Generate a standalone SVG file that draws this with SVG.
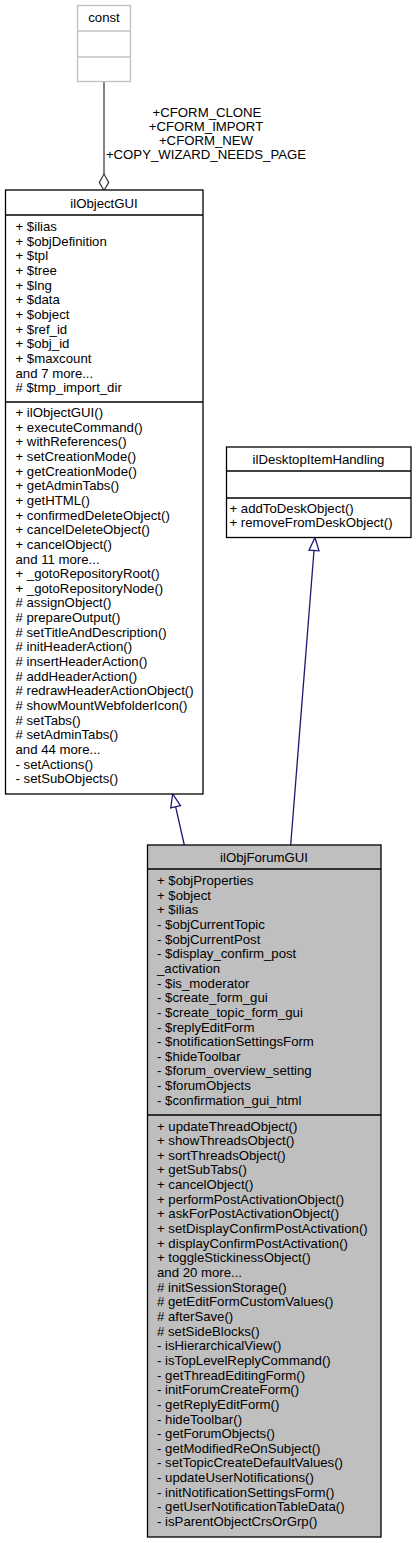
<svg xmlns="http://www.w3.org/2000/svg" width="416" height="1543" viewBox="0 0 416 1543">
<style>
text{font-family:"Liberation Sans",Arial,Helvetica,sans-serif;font-size:13.2px;fill:#000}
.c{text-anchor:middle}
.box{fill:#fff;stroke:#000;stroke-width:1.3}
.main{fill:#bfbfbf;stroke:#000;stroke-width:1.3}
.und{fill:#fff;stroke:#bfbfbf;stroke-width:1.3}
.sep{stroke:#000;stroke-width:1.3}
.sepg{stroke:#bfbfbf;stroke-width:1.3}
.inh{stroke:#191970;stroke-width:1.3;fill:none}
.inhh{stroke:#191970;stroke-width:1.3;fill:#fff}
.use{stroke:#404040;stroke-width:1.3;fill:none}
.useh{stroke:#404040;stroke-width:1.3;fill:#fff}
</style>
<rect width="416" height="1543" fill="#fff"/>
<g id="connectors">
<path class="use" d="M104,82 L104,174"/>
<polygon class="useh" points="104,174 99.3,182.4 104,190.5 108.7,182.4"/>
<text class="c" x="207" y="117">+CFORM_CLONE</text>
<text class="c" x="206" y="131">+CFORM_IMPORT</text>
<text class="c" x="206" y="145">+CFORM_NEW</text>
<text class="c" x="206" y="159">+COPY_WIZARD_NEEDS_PAGE</text>
<path class="inh" d="M184.3,845 L175.6,806.7"/>
<polygon class="inhh" points="172.7,794 170.7,807.8 180.5,805.6"/>
<path class="inh" d="M290.7,845 L314,550.5"/>
<polygon class="inhh" points="315,537.5 309,550.1 319,550.9"/>
</g>
<g id="const">
<rect class="und" x="77.5" y="5.5" width="53" height="76"/>
<line class="sepg" x1="77.5" y1="31" x2="130.5" y2="31"/>
<line class="sepg" x1="77.5" y1="57" x2="130.5" y2="57"/>
<text class="c" x="104" y="22">const</text>
</g>
<g id="ilObjectGUI">
<rect class="box" x="5.5" y="190" width="197.5" height="604"/>
<line class="sep" x1="5.5" y1="215" x2="203" y2="215"/>
<line class="sep" x1="5.5" y1="402" x2="203" y2="402"/>
<text class="c" x="104" y="207.5">ilObjectGUI</text>
<text x="15.5" y="231">+ $ilias</text>
<text x="15.5" y="245.65">+ $objDefinition</text>
<text x="15.5" y="260.3">+ $tpl</text>
<text x="15.5" y="274.95">+ $tree</text>
<text x="15.5" y="289.6">+ $lng</text>
<text x="15.5" y="304.25">+ $data</text>
<text x="15.5" y="318.9">+ $object</text>
<text x="15.5" y="333.55">+ $ref_id</text>
<text x="15.5" y="348.2">+ $obj_id</text>
<text x="15.5" y="362.85">+ $maxcount</text>
<text x="15.5" y="377.5">and 7 more...</text>
<text x="15.5" y="392.15"># $tmp_import_dir</text>
<text x="15.5" y="417">+ ilObjectGUI()</text>
<text x="15.5" y="431.65">+ executeCommand()</text>
<text x="15.5" y="446.3">+ withReferences()</text>
<text x="15.5" y="460.95">+ setCreationMode()</text>
<text x="15.5" y="475.6">+ getCreationMode()</text>
<text x="15.5" y="490.25">+ getAdminTabs()</text>
<text x="15.5" y="504.9">+ getHTML()</text>
<text x="15.5" y="519.55">+ confirmedDeleteObject()</text>
<text x="15.5" y="534.2">+ cancelDeleteObject()</text>
<text x="15.5" y="548.85">+ cancelObject()</text>
<text x="15.5" y="563.5">and 11 more...</text>
<text x="15.5" y="578.15">+ _gotoRepositoryRoot()</text>
<text x="15.5" y="592.8">+ _gotoRepositoryNode()</text>
<text x="15.5" y="607.45"># assignObject()</text>
<text x="15.5" y="622.1"># prepareOutput()</text>
<text x="15.5" y="636.75"># setTitleAndDescription()</text>
<text x="15.5" y="651.4"># initHeaderAction()</text>
<text x="15.5" y="666.05"># insertHeaderAction()</text>
<text x="15.5" y="680.7"># addHeaderAction()</text>
<text x="15.5" y="695.35"># redrawHeaderActionObject()</text>
<text x="15.5" y="710"># showMountWebfolderIcon()</text>
<text x="15.5" y="724.65"># setTabs()</text>
<text x="15.5" y="739.3"># setAdminTabs()</text>
<text x="15.5" y="753.95">and 44 more...</text>
<text x="15.5" y="768.6">- setActions()</text>
<text x="15.5" y="783.25">- setSubObjects()</text>
</g>
<g id="ilDesktopItemHandling">
<rect class="box" x="226.5" y="447" width="184.5" height="90.5"/>
<line class="sep" x1="226.5" y1="471" x2="411" y2="471"/>
<line class="sep" x1="226.5" y1="498" x2="411" y2="498"/>
<text class="c" x="318.5" y="464">ilDesktopItemHandling</text>
<text x="229.5" y="512.5">+ addToDeskObject()</text>
<text x="229.5" y="527.2">+ removeFromDeskObject()</text>
</g>
<g id="ilObjForumGUI">
<rect class="main" x="147.5" y="845" width="233.5" height="692"/>
<line class="sep" x1="147.5" y1="869" x2="381" y2="869"/>
<line class="sep" x1="147.5" y1="1115" x2="381" y2="1115"/>
<text class="c" x="264" y="861.7">ilObjForumGUI</text>
<text x="157" y="885">+ $objProperties</text>
<text x="157" y="899.65">+ $object</text>
<text x="157" y="914.3">+ $ilias</text>
<text x="157" y="928.95">- $objCurrentTopic</text>
<text x="157" y="943.6">- $objCurrentPost</text>
<text x="157" y="958.25">- $display_confirm_post</text>
<text x="157" y="972.9">_activation</text>
<text x="157" y="987.55">- $is_moderator</text>
<text x="157" y="1002.2">- $create_form_gui</text>
<text x="157" y="1016.85">- $create_topic_form_gui</text>
<text x="157" y="1031.5">- $replyEditForm</text>
<text x="157" y="1046.15">- $notificationSettingsForm</text>
<text x="157" y="1060.8">- $hideToolbar</text>
<text x="157" y="1075.45">- $forum_overview_setting</text>
<text x="157" y="1090.1">- $forumObjects</text>
<text x="157" y="1104.75">- $confirmation_gui_html</text>
<text x="157" y="1130.5">+ updateThreadObject()</text>
<text x="157" y="1145.15">+ showThreadsObject()</text>
<text x="157" y="1159.8">+ sortThreadsObject()</text>
<text x="157" y="1174.45">+ getSubTabs()</text>
<text x="157" y="1189.1">+ cancelObject()</text>
<text x="157" y="1203.75">+ performPostActivationObject()</text>
<text x="157" y="1218.4">+ askForPostActivationObject()</text>
<text x="157" y="1233.05">+ setDisplayConfirmPostActivation()</text>
<text x="157" y="1247.7">+ displayConfirmPostActivation()</text>
<text x="157" y="1262.35">+ toggleStickinessObject()</text>
<text x="157" y="1277">and 20 more...</text>
<text x="157" y="1291.65"># initSessionStorage()</text>
<text x="157" y="1306.3"># getEditFormCustomValues()</text>
<text x="157" y="1320.95"># afterSave()</text>
<text x="157" y="1335.6"># setSideBlocks()</text>
<text x="157" y="1350.25">- isHierarchicalView()</text>
<text x="157" y="1364.9">- isTopLevelReplyCommand()</text>
<text x="157" y="1379.55">- getThreadEditingForm()</text>
<text x="157" y="1394.2">- initForumCreateForm()</text>
<text x="157" y="1408.85">- getReplyEditForm()</text>
<text x="157" y="1423.5">- hideToolbar()</text>
<text x="157" y="1438.15">- getForumObjects()</text>
<text x="157" y="1452.8">- getModifiedReOnSubject()</text>
<text x="157" y="1467.45">- setTopicCreateDefaultValues()</text>
<text x="157" y="1482.1">- updateUserNotifications()</text>
<text x="157" y="1496.75">- initNotificationSettingsForm()</text>
<text x="157" y="1511.4">- getUserNotificationTableData()</text>
<text x="157" y="1526.05">- isParentObjectCrsOrGrp()</text>
</g>
</svg>
